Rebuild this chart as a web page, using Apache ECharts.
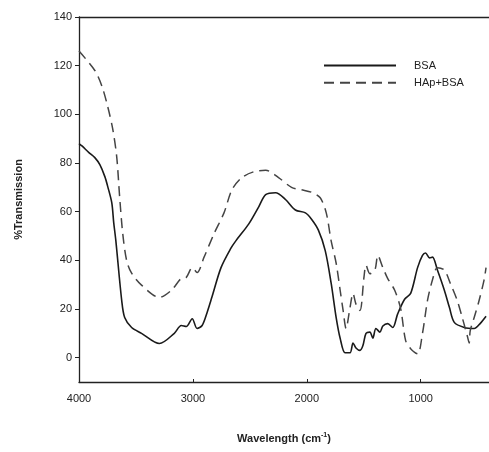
<!DOCTYPE html>
<html>
<head>
<meta charset="utf-8">
<script src="https://cdn.jsdelivr.net/npm/echarts@6/dist/echarts.min.js"></script>
<style>html,body{margin:0;padding:0;background:#fff}#c{width:489px;height:452px}</style>
</head>
<body>
<div id="c"></div>
<script>
// Wavenumber (cm^-1) and %Transmission
const bsaWn = [4000,3974,3913,3861,3817,3773,3747,3712,3695,3677,3625,3599,3538,3451,3294,3163,3102,3058,3006,2963,2919,2875,2832,2753,2666,2623,2509,2422,2361,2274,2187,2100,2012,1960,1899,1838,1786,1742,1707,1664,1620,1594,1568,1533,1507,1480,1446,1420,1393,1358,1332,1289,1245,1202,1141,1088,1027,984,957,922,896,853,792,748,705,617,530,478,426];
const bsaT  = [88,87,84.3,82.2,79.3,74.4,70.2,63.6,55.4,48.3,23.5,16.5,12.4,10,5.8,10,13.2,12.8,16,12,13.2,18.6,25,37,45,48,55,62,67,67.8,65,60.7,59.5,57,52.5,44,30.6,16.5,8,2,2,6,4,3,5,10,10.5,8,12,10.5,13,14,12.4,18,24,26.4,37,42,43,41,41.3,36,27.7,20.7,14.5,12.4,12,14,17];
const hapWn = [4000,3861,3799,3747,3704,3669,3643,3616,3582,3538,3451,3294,3189,3102,3058,3006,2963,2902,2814,2727,2657,2570,2466,2361,2248,2134,2047,1960,1882,1829,1786,1742,1707,1681,1655,1620,1594,1568,1533,1498,1480,1446,1402,1376,1332,1289,1228,1175,1132,1088,1027,984,940,896,853,792,740,679,635,591,574,565,530,487,443,426];
const hapT  = [126,118,111.6,103,94,82.6,66,51,40,34.7,29.8,24.8,27.7,32.6,33,37,35,41.3,51,59.5,69,74,76.4,77,74,70,69,68,65.7,59.5,48,38.8,27.7,19.4,12,20.7,26.4,22,19.4,33,38,34.5,36,42,37,32.5,27.7,20,7,3.7,1.6,10,23.5,32,37,36,30.6,23.5,16.5,9,6,11,16.5,23.5,32,37];
const xTicks = [4000,3000,2000,1000];
const yTicks = [0,20,40,60,80,100,120,140];
const seriesNames = ['BSA','HAp+BSA'];

const font = '"Liberation Sans", Arial, sans-serif';
const txt = '#222';
const chart = echarts.init(document.getElementById('c'), null, {renderer:'canvas'});
chart.setOption({
  animation:false,
  backgroundColor:'#fff',
  grid:{left:79, top:17, bottom:70, right:-3, containLabel:false},
  legend:{
    orient:'vertical', left:318, top:55, itemWidth:72, itemHeight:14, itemGap:6,
    itemStyle:{opacity:0},
    textStyle:{fontFamily:font, fontSize:11, color:txt, padding:[0,0,0,13]},
    data:seriesNames
  },
  xAxis:[{
    type:'value', inverse:true, min:400, max:4000,
    axisLine:{show:true, onZero:false, lineStyle:{color:'#222', width:1.3}},
    axisTick:{show:true, inside:true, length:3, customValues:xTicks, lineStyle:{color:'#222'}},
    axisLabel:{customValues:xTicks, fontFamily:font, fontSize:11, color:txt, margin:11, formatter:v=>String(v)},
    splitLine:{show:false},
    name:'{a|Wavelength (cm}{s|-1}{a|)}', nameLocation:'middle', nameGap:50,
    nameTextStyle:{rich:{a:{fontFamily:font, fontSize:11, fontWeight:'bold', color:txt}, s:{fontFamily:font, fontSize:7, fontWeight:'bold', color:txt, verticalAlign:'top', padding:[0,0,6,0]}}}
  },{
    type:'value', inverse:true, min:400, max:4000, position:'top',
    axisLine:{show:true, onZero:false, lineStyle:{color:'#222', width:1.3}},
    axisTick:{show:false}, axisLabel:{show:false}, splitLine:{show:false}
  }],
  yAxis:{
    type:'value', min:-10, max:140,
    axisLine:{show:true, onZero:false, lineStyle:{color:'#222', width:1.3}},
    axisTick:{show:true, length:4, customValues:yTicks, lineStyle:{color:'#222'}},
    axisLabel:{customValues:yTicks, fontFamily:font, fontSize:11, color:txt, margin:7},
    splitLine:{show:false},
    name:'%Transmission', nameLocation:'middle', nameGap:55,
    nameTextStyle:{fontFamily:font, fontSize:11, fontWeight:'bold', color:txt}
  },
  series:[
    {name:seriesNames[0], type:'line', symbol:'none', smooth:0.3, xAxisIndex:0,
     data:bsaWn.map((w,i)=>[w,bsaT[i]]),
     lineStyle:{color:'#1a1a1a', width:1.6}, itemStyle:{color:'#1a1a1a'}},
    {name:seriesNames[1], type:'line', symbol:'none', smooth:0.3, xAxisIndex:0,
     data:hapWn.map((w,i)=>[w,hapT[i]]),
     lineStyle:{color:'#444', width:1.5, type:[10,6]}, itemStyle:{color:'#444'}}
  ]
});
</script>
</body>
</html>
